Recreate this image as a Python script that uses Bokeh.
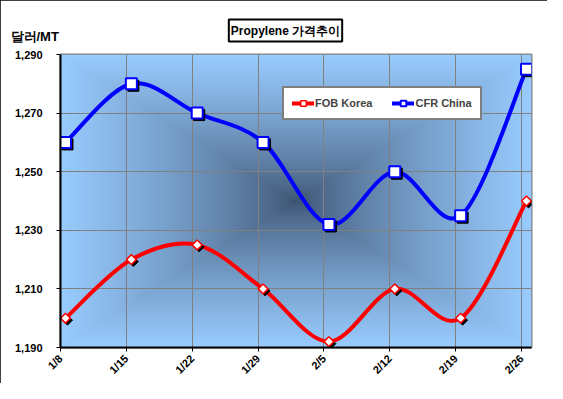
import numpy as np
from bokeh.plotting import figure
from bokeh.models import (Range1d, FixedTicker, NumeralTickFormatter, Label, Legend,
                          LegendItem)
from bokeh.embed import file_html
from bokeh.resources import INLINE

# ---------------- data ----------------
categories = ["1/8", "1/15", "1/22", "1/29", "2/5", "2/12", "2/19", "2/26"]
fob_korea = [1200, 1220, 1225, 1210, 1192, 1210, 1200, 1240]
cfr_china = [1260, 1280, 1270, 1260, 1232, 1250, 1235, 1285]
y_ticks = [1190, 1210, 1230, 1250, 1270, 1290]
title_text = "Propylene 가격추이"
y_title = "달러/MT"

# ---------------- layout / style ----------------
FONT = "Liberation Sans"
Y0, Y1 = 1190, 1290
X_END = 7.152          # plot area extends a bit beyond the last category
PT_SHIFT = 0.076       # points sit slightly right of the category gridline
FW, FH = 471, 294      # frame size in px
LEFT, TOP = 60, 54     # frame offset in px
PXX = FW / X_END
PXY = FH / (Y1 - Y0)

x_idx = np.arange(len(categories))
pts_x = x_idx + PT_SHIFT

p = figure(width=547, height=383, output_backend="svg", toolbar_location=None,
           x_range=Range1d(0, X_END), y_range=Range1d(Y0, Y1),
           min_border_left=LEFT, min_border_right=16, min_border_top=TOP,
           min_border_bottom=35)
p.styles = {"outline": "2px solid black", "outline-offset": "-2px"}
p.background_fill_color = "#99ccff"
p.border_fill_color = "white"
p.outline_line_color = "#808080"
p.outline_line_width = 2

# rectangular "from centre" gradient of the plot area
ny, nx = FH, FW
yy, xx = np.mgrid[0:ny, 0:nx]
tx = np.abs((xx + 0.5) / nx * 2 - 1)
ty = np.abs((yy + 0.5) / ny * 2 - 1)
t = np.maximum(tx, ty) ** 0.75
c0 = np.array([60, 82, 112], dtype=float)
c1 = np.array([153, 204, 255], dtype=float)
rgb = c0 + (c1 - c0) * t[..., None]
img = np.empty((ny, nx), dtype=np.uint32)
view = img.view(dtype=np.uint8).reshape((ny, nx, 4))
view[..., 0:3] = rgb.astype(np.uint8)
view[..., 3] = 255
p.image_rgba(image=[img], x=0, y=Y0, dw=X_END, dh=Y1 - Y0, level="image")

# grids
p.xgrid.ticker = FixedTicker(ticks=list(x_idx))
p.ygrid.ticker = FixedTicker(ticks=y_ticks)
for g in (p.xgrid, p.ygrid):
    g.grid_line_color = "#808080"
    g.grid_line_width = 1

# axes
p.xaxis.ticker = FixedTicker(ticks=list(x_idx))
p.xaxis.major_label_overrides = {int(i): c for i, c in zip(x_idx, categories)}
p.xaxis.major_label_orientation = np.pi / 4
p.yaxis.ticker = FixedTicker(ticks=y_ticks)
p.yaxis.formatter = NumeralTickFormatter(format="0,0")
for ax in (p.xaxis[0], p.yaxis[0]):
    ax.axis_line_color = "black"
    ax.axis_line_width = 2
    ax.major_tick_line_color = "black"
    ax.major_tick_in = 0
    ax.major_tick_out = 4
    ax.minor_tick_line_color = None
    ax.major_label_text_font = FONT
    ax.major_label_text_font_style = "bold"
    ax.major_label_text_font_size = "11px"
    ax.major_label_text_color = "black"
p.yaxis.major_label_standoff = 14
p.xaxis.major_label_standoff = 5

# title box (panel stacked right above the frame)
p.add_layout(Label(x=225, y=TOP - 30, x_units="screen", y_units="screen",
                   text=title_text, text_align="center", text_baseline="middle",
                   text_font=FONT, text_font_style="bold",
                   text_font_size="12px", text_color="black",
                   border_line_color="black", border_line_width=2,
                   background_fill_color="white", padding=(2, 4)), "above")
# unit label (next panel outward; the title panel is ~22px tall)
p.add_layout(Label(x=10 - LEFT, y=(TOP - 22) - 36, x_units="screen", y_units="screen",
                   text=y_title, text_align="left", text_baseline="middle",
                   text_font=FONT, text_font_style="bold",
                   text_font_size="13px", text_color="black"), "above")


def bezier_parts(xs, ys):
    P = np.column_stack([xs, ys]).astype(float)
    ext = np.vstack([P[0], P, P[-1]])
    c1_ = P[:-1] + (ext[2:-1] - ext[:-3]) / 6.0
    c2_ = P[1:] - (ext[3:] - ext[1:-2]) / 6.0
    return dict(x0=P[:-1, 0], y0=P[:-1, 1], x1=P[1:, 0], y1=P[1:, 1],
                cx0=c1_[:, 0], cy0=c1_[:, 1], cx1=c2_[:, 0], cy1=c2_[:, 1])


fob_line = p.bezier(**bezier_parts(pts_x, fob_korea), line_color="#ff0000",
                    line_width=4, line_cap="round", line_join="round")
cfr_line = p.bezier(**bezier_parts(pts_x, cfr_china), line_color="#0000ff",
                    line_width=4, line_cap="round", line_join="round")

# marker shadows: ranges shifted by 2px so markers appear 2px right / 2px down
sdx = 2 / PXX
sdy = 2 / PXY
p.extra_x_ranges = {"sh": Range1d(0 - sdx, X_END - sdx)}
p.extra_y_ranges = {"sh": Range1d(Y0 + sdy, Y1 + sdy)}
p.scatter(pts_x, fob_korea, marker="square", angle=np.pi / 4, size=7,
          color="black", x_range_name="sh", y_range_name="sh")
p.scatter(pts_x, cfr_china, marker="square", size=11, color="black",
          x_range_name="sh", y_range_name="sh")

fob_pts = p.scatter(pts_x, fob_korea, marker="square", angle=np.pi / 4, size=7,
                    fill_color="white", line_color="#ff0000", line_width=1.5)
cfr_pts = p.scatter(pts_x, cfr_china, marker="square", size=11,
                    fill_color="white", line_color="#0000ff", line_width=2)

legend = Legend(items=[LegendItem(label="FOB Korea", renderers=[fob_line, fob_pts]),
                       LegendItem(label="CFR China", renderers=[cfr_line, cfr_pts])],
                location=(222, 227), orientation="horizontal",
                border_line_color="black", border_line_width=2,
                background_fill_color="white", background_fill_alpha=1,
                label_text_font=FONT, label_text_font_style="bold",
                label_text_font_size="11px", glyph_width=22, glyph_height=14,
                label_standoff=1, spacing=20, padding=8, margin=0,
                label_height=14)
p.add_layout(legend)

open("out.html", "w").write(file_html(p, INLINE))
